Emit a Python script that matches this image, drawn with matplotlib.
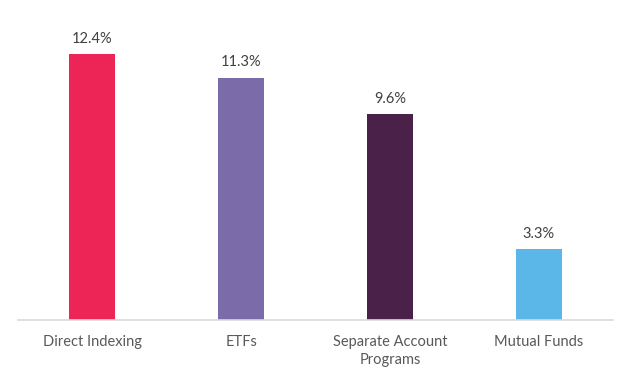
import matplotlib.pyplot as plt

categories = ['Direct Indexing', 'ETFs', 'Separate Account\nPrograms', 'Mutual Funds']
values = [12.4, 11.3, 9.6, 3.3]
colors = ['#EC2556', '#7B6BA9', '#4A2249', '#5BB7E8']

plt.rcParams['font.family'] = ['Lato', 'DejaVu Sans']

fig = plt.figure(figsize=(6.24, 3.72), dpi=100)
ax = fig.add_axes([18 / 624, 52 / 372, 595 / 624, 320 / 372])

x = range(len(categories))
bars = ax.bar(x, values, width=0.31, color=colors)

for xi, v in zip(x, values):
    ax.annotate(f'{v}%', (xi, v), xytext=(0, 6), textcoords='offset points',
                ha='center', va='bottom', fontsize=10.5, color='#404040')

ax.set_xlim(-0.5, 3.5)
ax.set_ylim(0, 14.92)
ax.set_xticks(list(x))
ax.set_xticklabels(categories, fontsize=10.5, color='#595959', linespacing=1.35)
ax.tick_params(axis='x', length=0, pad=11)
ax.set_yticks([])
for s in ['top', 'left', 'right']:
    ax.spines[s].set_visible(False)
ax.spines['bottom'].set_color('#D9D9D9')
ax.spines['bottom'].set_linewidth(1.2)

fig.savefig('out.png', dpi=100)
